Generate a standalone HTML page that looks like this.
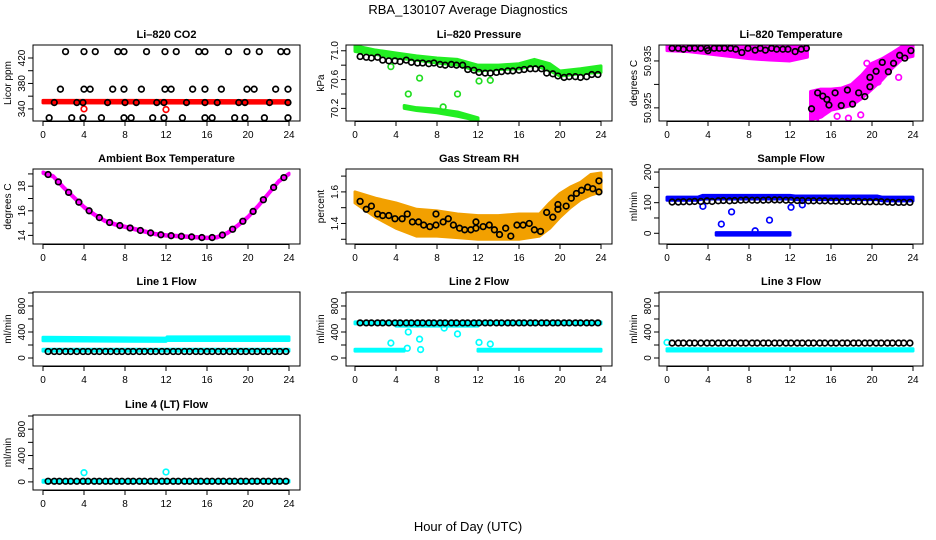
<!DOCTYPE html>
<html><head><meta charset="utf-8"><style>
body{margin:0;background:#fff;}
svg{display:block;font-family:"Liberation Sans",sans-serif;}
</style></head><body>
<svg id="c" width="936" height="540" xmlns="http://www.w3.org/2000/svg">
<text x="468" y="14" text-anchor="middle" font-size="13">RBA_130107  Average Diagnostics</text>
<text x="468" y="531" text-anchor="middle" font-size="13">Hour of Day (UTC)</text>
</svg>
<script>
// ---- shared sample hours ----
const sampleHours=[0.5,1.1,1.6,2.2,2.7,3.3,3.9,4.4,5.0,5.5,6.1,6.6,7.2,7.7,8.3,8.8,9.4,9.9,10.5,11.0,11.6,12.1,12.7,13.2,13.8,14.3,14.9,15.4,16.0,16.5,17.1,17.6,18.2,18.7,19.3,19.8,20.4,20.9,21.5,22.0,22.6,23.1,23.7];
// ---- CO2 ----
const co2TopHours=[2.2,4,5.1,7.3,7.9,10.1,11.9,13,15.2,15.8,18.1,19.9,21.1,23.2,23.8];
const co2Top=430;
const co2MidHours=[1.7,4,4.6,6.8,7.9,9.6,11.9,12.5,14.6,15.8,17.4,19.9,20.6,22.7,23.9];
const co2Mid=371;
const co2LowHours=[1.1,3.3,3.9,6.3,8,9.1,11.1,11.8,14,15.8,17,19.1,19.7,22.1,23.9];
const co2Low=350;
const co2BotHours=[0.6,2.8,3.9,5.7,7.9,8.6,10.7,11.8,13.6,15.8,16.5,18.7,19.7,21.6,23.9];
const co2Bot=326;
const co2BandHours=[0,24];
const co2BandUpper=[353.5,353];
const co2BandLower=[349.5,349];
const co2OutHours=[4,12];
const co2OutVals=[340,339];
// ---- Pressure ----
const presBandHours=[0,2,4,6,8,10,12,14,16,17.5,19,20,22,24];
const presBandUpper=[71.07,71.01,70.97,70.93,70.9,70.88,70.8,70.8,70.82,70.88,70.82,70.72,70.75,70.79];
const presBandLower=[70.99,70.95,70.9,70.87,70.83,70.8,70.72,70.74,70.75,70.8,70.72,70.65,70.68,70.7];
const presLowHours=[4.8,6,8,10,12];
const presLowUpper=[70.24,70.21,70.19,70.15,70.07];
const presLowLower=[70.2,70.17,70.14,70.09,70.03];
const presBlack=[70.92,70.91,70.9,70.91,70.87,70.86,70.86,70.85,70.87,70.84,70.83,70.83,70.82,70.83,70.81,70.8,70.81,70.8,70.8,70.74,70.73,70.7,70.69,70.69,70.7,70.71,70.72,70.72,70.73,70.74,70.75,70.75,70.75,70.69,70.68,70.65,70.63,70.64,70.64,70.63,70.64,70.67,70.67];
const presOutHours=[3.5,5.2,6.3,8.6,10,12.1,13.2];
const presOutVals=[70.78,70.4,70.62,70.22,70.4,70.58,70.59];
// ---- Li-820 Temperature ----
const tempBand1Hours=[0,2,4,6,8,10,12,13.7];
const tempBand1Upper=[50.9386,50.9386,50.9386,50.9386,50.9386,50.9386,50.9386,50.9386];
const tempBand1Lower=[50.9372,50.937,50.9365,50.936,50.9355,50.9352,50.935,50.9358];
const tempBand2Hours=[14,15,16,17,18,19,20,21,22,23,24];
const tempBand2Upper=[50.9285,50.929,50.929,50.9292,50.93,50.932,50.9345,50.9355,50.9368,50.9382,50.9386];
const tempBand2Lower=[50.9225,50.923,50.9245,50.925,50.9255,50.927,50.929,50.931,50.9335,50.9355,50.936];
const tempBlackHours=[0.5,1.1,1.6,2.2,2.7,3.3,3.9,4.0,4.6,5.1,5.6,6.2,6.7,7.3,7.9,8.6,9.1,9.6,10.2,10.7,11.3,11.8,12.5,13.1,13.6,14.1,14.7,15.2,15.6,15.8,16.4,17,17.6,18.1,18.7,19.3,19.8,19.8,20.4,21,21.6,22.1,22.7,23.2,23.8];
const tempBlackVals=[50.9377,50.9377,50.9375,50.9377,50.9377,50.9377,50.9377,50.9372,50.9377,50.9377,50.9377,50.9377,50.9375,50.9368,50.9377,50.9373,50.9377,50.9373,50.9377,50.9375,50.9375,50.9375,50.937,50.9375,50.9377,50.9248,50.9282,50.9275,50.9268,50.9256,50.9282,50.9255,50.9288,50.9258,50.9282,50.9274,50.9315,50.9295,50.9328,50.9347,50.9327,50.9345,50.9362,50.9356,50.9372];
const tempMagHours=[6.7,9.6,11.2,14.5,15,16.6,17.7,18.9,20.6,22.6,21.5,14.4,19.5,16.3];
const tempMagVals=[50.9365,50.936,50.9362,50.9225,50.9235,50.9232,50.9228,50.9235,50.9305,50.9315,50.9335,50.9222,50.9345,50.927];
// ---- Ambient Box Temperature ----
const ambHours=[0,1,2,3,4,5,6,7,8,9,10,11,12,13,14,15,16,17,18,19,20,21,22,23,24];
const ambVals=[19.1,18.8,17.9,17.1,16.3,15.7,15.2,14.9,14.7,14.5,14.3,14.1,14.0,13.95,13.9,13.85,13.8,13.85,14.2,14.8,15.5,16.4,17.4,18.4,19.0];
// ---- Gas Stream RH ----
const rhBandHours=[0,2,4,6,8,10,12,14,16,18,19,20,21,22,23,24];
const rhBandUpper=[1.6,1.56,1.53,1.49,1.48,1.46,1.45,1.45,1.46,1.46,1.53,1.59,1.63,1.66,1.71,1.72];
const rhBandLower=[1.53,1.44,1.37,1.32,1.32,1.31,1.3,1.3,1.3,1.32,1.37,1.44,1.5,1.55,1.58,1.6];
const rhBlackHours=[0.5,1.1,1.6,2.2,2.7,3.3,3.9,4.6,5.1,5.6,6.2,6.7,7.3,7.9,7.9,8.6,9.1,9.6,10.2,10.7,11.3,11.8,11.8,12.5,13.1,13.6,14.1,14.7,15.2,15.8,16.4,17,17.5,18.1,18.7,19.3,19.8,19.8,20.6,21.1,21.6,22.1,22.7,23.2,23.8,23.8];
const rhBlackVals=[1.54,1.49,1.51,1.46,1.45,1.45,1.43,1.43,1.46,1.41,1.41,1.39,1.38,1.39,1.46,1.41,1.43,1.39,1.37,1.36,1.36,1.37,1.41,1.38,1.39,1.36,1.33,1.37,1.32,1.39,1.39,1.4,1.36,1.35,1.47,1.44,1.49,1.52,1.51,1.56,1.59,1.61,1.63,1.62,1.6,1.67];
// ---- Sample Flow ----
const sfBandHours=[0,3,3.5,12,12.5,20.5,21,24];
const sfBandUpper=[118,118,124,124,122,122,118,118];
const sfBandLower=[108,108,112,112,110,110,106,106];
const sfZeroHours=[4.8,12];
const sfZeroUpper=[2,2];
const sfZeroLower=[-6,-6];
const sfBlack=[102,102,103,103,104,104,106,104,106,107,106,107,108,109,108,108,108,109,109,109,108,108,107,107,106,106,106,106,105,105,104,104,104,104,103,103,103,103,102,101,101,101,101];
const sfOutHours=[3.5,5.3,6.3,8.6,10,12.1,13.2];
const sfOutVals=[88,30,70,8,43,85,93];
// ---- Line flows ----
const l1BandHours=[0,12,12.1,24];
const l1BandUpper=[320,305,325,325];
const l1BandLower=[265,255,270,270];
const l1CyanLowHours=[0,24];
const l1CyanLow=[120,120];
const l1Black=100;
const l2BlackVal=540;
const l2CyanHighHours=[0,24];
const l2CyanHigh=[540,540];
const l2CyanMidHours=[4,12];
const l2CyanMid=[505,505];
const l2CyanLowSegHours=[[0,4.8],[12,24]];
const l2CyanLowVal=120;
const l2OutHours=[3.5,5.2,5.1,6.3,6.4,8.7,10,12.1,13.2];
const l2OutVals=[230,400,150,290,130,460,370,240,215];
const l3Black=230;
const l3CyanHours=[0,24];
const l3Cyan=[125,125];
const l3CyanStartVal=240;
const l4Black=10;
const l4Cyan=10;
const l4OutHours=[4,12];
const l4OutVals=[140,150];

const NS='http://www.w3.org/2000/svg';
const svg=document.getElementById('c');
function el(tag,attrs,parent){const e=document.createElementNS(NS,tag);for(const k in attrs)e.setAttribute(k,attrs[k]);(parent||svg).appendChild(e);return e;}
const cols=[{bx0:33,bx1:300,x0:43,x24:289},{bx0:346,bx1:612,x0:355,x24:601},{bx0:659,bx1:923,x0:667,x24:913}];
const rows=[{t:45,b:121},{t:169,b:244},{t:292,b:366},{t:415,b:490}];

function panel(name,title,ylab,col,row,ymin,ymax,ticks,labels,dec){
  const C=cols[col],R=rows[row];
  const g=el('g',{});
  
  
  const sx=h=>C.x0+(C.x24-C.x0)*h/24;
  const sy=v=>R.b-(v-ymin)/(ymax-ymin)*(R.b-R.t);
  const t=el('text',{x:(C.bx0+C.bx1)/2,y:R.t-7,'text-anchor':'middle','font-size':11,'font-weight':'bold'},g);
  t.textContent=title;
  
  
  const plot=el('g',{},g);
  const box=el('rect',{x:C.bx0,y:R.t,width:C.bx1-C.bx0,height:R.b-R.t,fill:'none',stroke:'#000','stroke-width':1},g);
  
  
  for(let h=0;h<=24;h+=4){
    el('line',{x1:sx(h),x2:sx(h),y1:R.b,y2:R.b+5,stroke:'#000'},g);
    const tx=el('text',{x:sx(h),y:R.b+17,'text-anchor':'middle','font-size':10},g);
    tx.textContent=h;
    
    
  }
  el('line',{x1:sx(0),x2:sx(24),y1:R.b+0.5,y2:R.b+0.5,stroke:'#000'},g);
  for(const v of ticks){el('line',{x1:C.bx0-5,x2:C.bx0,y1:sy(v),y2:sy(v),stroke:'#000'},g);}
  for(const v of labels){
    const ty=el('text',{x:C.bx0-8,y:sy(v),'text-anchor':'middle','font-size':10,transform:`rotate(-90 ${C.bx0-8} ${sy(v)})`},g);
    ty.textContent=v.toFixed(dec);
    
    
  }
  const yl=el('text',{x:C.bx0-22,y:(R.t+R.b)/2,'text-anchor':'middle','font-size':10,transform:`rotate(-90 ${C.bx0-22} ${(R.t+R.b)/2})`},g);
  yl.textContent=ylab;
  
  
  const clip='cp'+name;
  const cp=el('clipPath',{id:clip},g);el('rect',{x:C.bx0,y:R.t,width:C.bx1-C.bx0,height:R.b-R.t},cp);
  plot.setAttribute('clip-path',`url(#${clip})`);
  return {sx,sy,plot};
}
function band(P,hours,up,lo,color,name,sw){
  let d='';hours.forEach((h,i)=>d+=(i?'L':'M')+P.sx(h)+' '+P.sy(up[i]));
  for(let i=hours.length-1;i>=0;i--)d+='L'+P.sx(hours[i])+' '+P.sy(lo[i]);
  const p=el('path',{d:d+'Z',fill:color,stroke:color,'stroke-width':sw||3,'stroke-linejoin':'round'},P.plot);
  
  
}
function pt(P,h,v,color,name){
  const c=el('circle',{cx:P.sx(h),cy:P.sy(v),r:2.8,fill:'none',stroke:color,'stroke-width':1.7},P.plot);
  
  
}

// CO2
let P=panel('co2-panel','Li\u2013820 CO2','Licor ppm',0,0,321,440.4,[340,360,380,400,420],[340,380,420],0);
band(P,co2BandHours,co2BandUpper,co2BandLower,'#ff0000','co2-band',3);
co2OutHours.forEach((h,i)=>pt(P,h,co2OutVals[i],'#ff0000','co2-outlier'));
co2TopHours.forEach(h=>pt(P,h,co2Top,'#000','co2-point'));
co2MidHours.forEach(h=>pt(P,h,co2Mid,'#000','co2-point'));
co2LowHours.forEach(h=>pt(P,h,co2Low,'#000','co2-point'));
co2BotHours.forEach(h=>pt(P,h,co2Bot,'#000','co2-point'));
// Pressure
P=panel('pressure-panel','Li\u2013820 Pressure','kPa',1,0,70.025,71.08,[70.2,70.4,70.6,70.8,71.0],[70.2,70.6,71.0],1);
band(P,presBandHours,presBandUpper,presBandLower,'#22ee22','pressure-band');
band(P,presLowHours,presLowUpper,presLowLower,'#22ee22','pressure-low-band');
presOutHours.forEach((h,i)=>pt(P,h,presOutVals[i],'#22dd22','pressure-outlier'));
sampleHours.forEach((h,i)=>pt(P,h,presBlack[i],'#000','pressure-point'));
// Temperature
P=panel('li820-temp-panel','Li\u2013820 Temperature','degrees C',2,0,50.9222,50.9384,[50.925,50.93,50.935],[50.925,50.935],3);
band(P,tempBand1Hours,tempBand1Upper,tempBand1Lower,'#ff00ff','temp-band-1');
band(P,tempBand2Hours,tempBand2Upper,tempBand2Lower,'#ff00ff','temp-band-2');
tempMagHours.forEach((h,i)=>pt(P,h,tempMagVals[i],'#ff00ff','temp-outlier'));
tempBlackHours.forEach((h,i)=>pt(P,h,tempBlackVals[i],'#000','temp-point'));
// Ambient
P=panel('ambient-temp-panel','Ambient Box Temperature','degrees C',0,1,13.3,19.4,[14,15,16,17,18,19],[14,16,18],0);
const ambLo=ambVals.map(v=>v-0.06),ambUp=ambVals.map(v=>v+0.06);
band(P,ambHours,ambUp,ambLo,'#ff00ff','ambient-band',3);
ambHours.forEach((h,i)=>{if(i<24){pt(P,h+0.5,(ambVals[i]+ambVals[i+1])/2,'#000','ambient-point');}});
// RH
P=panel('rh-panel','Gas Stream RH','percent',1,1,1.27,1.745,[1.3,1.4,1.5,1.6,1.7],[1.4,1.6],1);
band(P,rhBandHours,rhBandUpper,rhBandLower,'#f2a000','rh-band');
rhBlackHours.forEach((h,i)=>pt(P,h,rhBlackVals[i],'#000','rh-point'));
// Sample flow
P=panel('sample-flow-panel','Sample Flow','ml/min',2,1,-35,210,[0,50,100,150,200],[0,100,200],0);
band(P,sfBandHours,sfBandUpper,sfBandLower,'#0000ff','sample-flow-band');
band(P,sfZeroHours,sfZeroUpper,sfZeroLower,'#0000ff','sample-flow-zero-band');
sfOutHours.forEach((h,i)=>pt(P,h,sfOutVals[i],'#0000ff','sample-flow-outlier'));
sampleHours.forEach((h,i)=>pt(P,h,sfBlack[i],'#000','sample-flow-point'));
// Line 1
P=panel('line1-flow-panel','Line 1 Flow','ml/min',0,2,-123,1015,[0,200,400,600,800,1000],[0,400,800],0);
band(P,l1BandHours,l1BandUpper,l1BandLower,'#00ffff','line1-cyan-band');
band(P,l1CyanLowHours,l1CyanLow.map(v=>v+15),l1CyanLow.map(v=>v-15),'#00ffff','line1-cyan-low');
sampleHours.forEach(h=>pt(P,h,l1Black,'#000','line1-point'));
// Line 2
P=panel('line2-flow-panel','Line 2 Flow','ml/min',1,2,-123,1015,[0,200,400,600,800,1000],[0,400,800],0);
band(P,l2CyanHighHours,l2CyanHigh.map(v=>v+15),l2CyanHigh.map(v=>v-15),'#00ffff','line2-cyan-high');
band(P,l2CyanMidHours,l2CyanMid.map(v=>v+15),l2CyanMid.map(v=>v-15),'#00ffff','line2-cyan-mid');
l2CyanLowSegHours.forEach(s=>band(P,s,[l2CyanLowVal+15,l2CyanLowVal+15],[l2CyanLowVal-15,l2CyanLowVal-15],'#00ffff','line2-cyan-low'));
l2OutHours.forEach((h,i)=>pt(P,h,l2OutVals[i],'#00ffff','line2-outlier'));
sampleHours.forEach(h=>pt(P,h,l2BlackVal,'#000','line2-point'));
// Line 3
P=panel('line3-flow-panel','Line 3 Flow','ml/min',2,2,-123,1015,[0,200,400,600,800,1000],[0,400,800],0);
band(P,l3CyanHours,l3Cyan.map(v=>v+18),l3Cyan.map(v=>v-18),'#00ffff','line3-cyan-band');
pt(P,0,l3CyanStartVal,'#00ffff','line3-cyan-start');
sampleHours.forEach(h=>pt(P,h,l3Black,'#000','line3-point'));
// Line 4
P=panel('line4-flow-panel','Line 4 (LT) Flow','ml/min',0,3,-123,1015,[0,200,400,600,800,1000],[0,400,800],0);
band(P,[0,24],[l4Cyan+15,l4Cyan+15],[l4Cyan-15,l4Cyan-15],'#00ffff','line4-cyan-band');
l4OutHours.forEach((h,i)=>pt(P,h,l4OutVals[i],'#00ffff','line4-outlier'));
sampleHours.forEach(h=>pt(P,h,l4Black,'#000','line4-point'));
</script>
</body></html>
